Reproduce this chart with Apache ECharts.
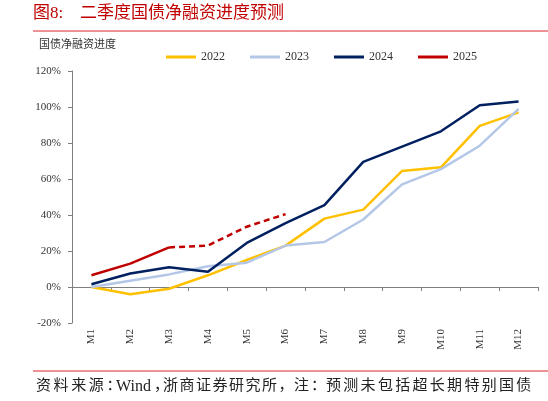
<!DOCTYPE html>
<html>
<head>
<meta charset="utf-8">
<script src="https://cdn.jsdelivr.net/npm/echarts@6/dist/echarts.min.js"></script>
<style>
html, body { margin: 0; padding: 0; background: #fff; }
#main { width: 548px; height: 401px; }
</style>
</head>
<body>
<div id="main"></div>
<script>
var FONT = '"Liberation Serif", "Noto Sans CJK SC", serif';

// 月份
var months = ['M1','M2','M3','M4','M5','M6','M7','M8','M9','M10','M11','M12'];
// 国债净融资进度 (%)
var s2022 = [0, -4, -1, 6.5, 15, 23, 38, 43, 64.5, 66.5, 89.5, 97];
var s2023 = [0, 3.5, 7, 11.5, 13.5, 23, 25, 37.5, 57, 65.5, 78.5, 99];
var s2024 = [1.5, 7.5, 11, 8.5, 24.5, 35.5, 45.5, 69.5, 78, 86.5, 101, 103];
// 2025：实际（实线）+ 预测（虚线）
var s2025Actual = [6.5, 13, 22, null, null, null, null, null, null, null, null, null];
var s2025Forecast = [null, null, 22, 23, 33.5, 40.5, null, null, null, null, null, null];

// 字距较宽的文字，逐字摆放
function spaced(text, x, y, pitch, font, color) {
    var out = [];
    for (var i = 0; i < text.length; i++) {
        out.push({ type: 'text', left: x + i * pitch, top: y, style: { text: text[i], fill: color, font: font } });
    }
    return out;
}

var srcFont = '15px ' + FONT;
var srcColor = '#222';
var graphics = [
    { type: 'text', left: 33, top: 5, style: { text: '图8:', fill: '#C00000', font: '17px ' + FONT } },
    { type: 'text', left: 80, top: 5, style: { text: '二季度国债净融资进度预测', fill: '#C00000', font: '17px ' + FONT } },
    { type: 'line', shape: { x1: 33, y1: 31, x2: 548, y2: 31 }, style: { stroke: '#D9262C', lineWidth: 1 } },
    { type: 'text', left: 39, top: 40, style: { text: '国债净融资进度', fill: '#333', font: '11px ' + FONT } },
    { type: 'line', shape: { x1: 33, y1: 371, x2: 548, y2: 371 }, style: { stroke: '#D9262C', lineWidth: 1 } },
    { type: 'text', left: 116, top: 379, style: { text: 'Wind', fill: srcColor, font: '16px ' + FONT } }
];
graphics = graphics
    .concat(spaced('资料来源：', 36, 379, 17.6, srcFont, srcColor))
    .concat(spaced('，', 154, 379, 0, srcFont, srcColor))
    .concat(spaced('浙商证券研究所，', 163, 379, 16.5, srcFont, srcColor))
    .concat(spaced('注：', 294, 379, 17, srcFont, srcColor))
    .concat(spaced('预测未包括超长期特别国债', 326, 379, 17.3, srcFont, srcColor));

var myChart = echarts.init(document.getElementById('main'));

myChart.setOption({
    animation: false,
    textStyle: { fontFamily: FONT },
    color: ['#FFC000', '#B4C7E7', '#002060', '#C00000'],
    grid: { left: 72, right: 10, top: 71, bottom: 78 },
    legend: {
        data: ['2022', '2023', '2024', '2025'],
        top: 46,
        left: 161,
        itemWidth: 30,
        itemHeight: 3,
        itemGap: 25,
        icon: 'rect',
        textStyle: { fontFamily: FONT, fontSize: 12, color: '#333' }
    },
    graphic: graphics,
    xAxis: {
        type: 'category',
        data: months,
        boundaryGap: true,
        axisLine: { onZero: true, lineStyle: { color: '#7f7f7f', width: 1 } },
        axisTick: { show: true, alignWithLabel: false, length: 4, lineStyle: { color: '#7f7f7f' } },
        axisLabel: { rotate: 90, margin: 6, color: '#333', fontSize: 11, fontFamily: FONT },
        splitLine: { show: false }
    },
    yAxis: {
        type: 'value',
        min: -20,
        max: 120,
        interval: 20,
        axisLine: { show: true, lineStyle: { color: '#7f7f7f', width: 1 } },
        axisTick: { show: true, length: 4, lineStyle: { color: '#7f7f7f' } },
        axisLabel: { formatter: '{value}%', color: '#333', fontSize: 11, fontFamily: FONT, margin: 11 },
        splitLine: { show: false }
    },
    series: [
        { name: '2022', type: 'line', data: s2022, symbol: 'none', lineStyle: { width: 2.5 } },
        { name: '2023', type: 'line', data: s2023, symbol: 'none', lineStyle: { width: 2.5 } },
        { name: '2024', type: 'line', data: s2024, symbol: 'none', lineStyle: { width: 2.5 } },
        { name: '2025', type: 'line', data: s2025Actual, symbol: 'none', lineStyle: { width: 2.5 } },
        { name: '2025', type: 'line', data: s2025Forecast, symbol: 'none', lineStyle: { width: 2.5, type: [6, 4] } }
    ]
});
</script>
</body>
</html>
